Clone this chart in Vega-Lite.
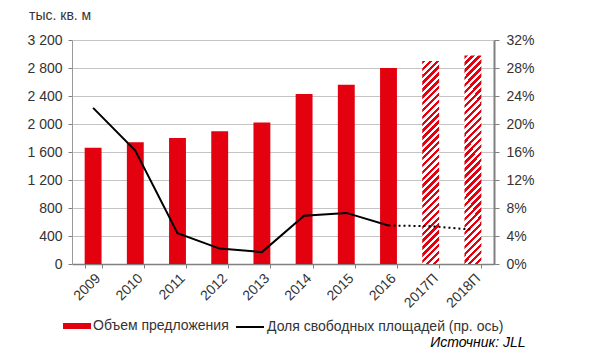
{
  "$schema": "https://vega.github.io/schema/vega-lite/v6.json",
  "width": 422,
  "height": 224,
  "autosize": {"type": "none"},
  "padding": {"left": 72, "top": 40, "right": 106, "bottom": 100},
  "background": "white",
  "title": {
    "text": "тыс. кв. м",
    "anchor": "start",
    "frame": "group",
    "orient": "top",
    "dx": -43,
    "offset": 10,
    "font": "Liberation Sans",
    "fontSize": 14,
    "fontWeight": "normal",
    "color": "#333333"
  },
  "data": {
    "values": [
      {"year": "2009", "supply": 1660, "vac": 0.223, "f": false},
      {"year": "2010", "supply": 1740, "vac": 0.162, "f": false},
      {"year": "2011", "supply": 1800, "vac": 0.044, "f": false},
      {"year": "2012", "supply": 1895, "vac": 0.022, "f": false},
      {"year": "2013", "supply": 2020, "vac": 0.017, "f": false},
      {"year": "2014", "supply": 2430, "vac": 0.069, "f": false},
      {"year": "2015", "supply": 2560, "vac": 0.073, "f": false},
      {"year": "2016", "supply": 2800, "vac": 0.055, "f": false},
      {"year": "2017П", "supply": 2900, "vac": 0.054, "f": true},
      {"year": "2018П", "supply": 2980, "vac": 0.049, "f": true}
    ]
  },
  "encoding": {
    "x": {
      "field": "year",
      "type": "nominal",
      "sort": null,
      "scale": {"paddingInner": 0.6, "paddingOuter": 0.3},
      "axis": {
        "tickBand": "extent",
        "labelAngle": -45,
        "labelAlign": "right",
        "labelBaseline": "top",
        "labelPadding": 3,
        "tickSize": 4,
        "tickColor": "#808080",
        "domainColor": "#808080",
        "domainWidth": 1.5,
        "grid": false,
        "title": "Источник: JLL",
        "titleFontStyle": "italic",
        "titleFontWeight": "normal",
        "titleFontSize": 14,
        "titleColor": "#000000",
        "titleAlign": "right",
        "titleBaseline": "middle",
        "titleX": 453,
        "titleY": 78,
        "titleAngle": 0
      }
    }
  },
  "layer": [
    {
      "mark": {"type": "bar"},
      "encoding": {
        "y": {
          "field": "supply",
          "type": "quantitative",
          "scale": {"domain": [0, 3200], "nice": false},
          "axis": {
            "values": [0, 400, 800, 1200, 1600, 2000, 2400, 2800, 3200],
            "labelExpr": "replace(format(datum.value, ','), ',', ' ')",
            "labelOverlap": false,
            "grid": true,
            "gridColor": "#c4c4c4",
            "gridWidth": 1,
            "domainColor": "#999999",
            "tickColor": "#808080",
            "tickSize": 4,
            "labelPadding": 6,
            "title": null
          }
        },
        "fill": {
          "condition": {
            "test": "datum.f",
            "value": {
              "gradient": "linear",
              "x1": 0, "y1": 0, "x2": 0.0893, "y2": 1.0755,
              "stops": [
                {"offset": 0, "color": "#e3000f"}, {"offset": 0.015625, "color": "#e3000f"},
                {"offset": 0.015625, "color": "#ffffff"}, {"offset": 0.03125, "color": "#ffffff"},
                {"offset": 0.03125, "color": "#e3000f"}, {"offset": 0.046875, "color": "#e3000f"},
                {"offset": 0.046875, "color": "#ffffff"}, {"offset": 0.0625, "color": "#ffffff"},
                {"offset": 0.0625, "color": "#e3000f"}, {"offset": 0.078125, "color": "#e3000f"},
                {"offset": 0.078125, "color": "#ffffff"}, {"offset": 0.09375, "color": "#ffffff"},
                {"offset": 0.09375, "color": "#e3000f"}, {"offset": 0.109375, "color": "#e3000f"},
                {"offset": 0.109375, "color": "#ffffff"}, {"offset": 0.125, "color": "#ffffff"},
                {"offset": 0.125, "color": "#e3000f"}, {"offset": 0.140625, "color": "#e3000f"},
                {"offset": 0.140625, "color": "#ffffff"}, {"offset": 0.15625, "color": "#ffffff"},
                {"offset": 0.15625, "color": "#e3000f"}, {"offset": 0.171875, "color": "#e3000f"},
                {"offset": 0.171875, "color": "#ffffff"}, {"offset": 0.1875, "color": "#ffffff"},
                {"offset": 0.1875, "color": "#e3000f"}, {"offset": 0.203125, "color": "#e3000f"},
                {"offset": 0.203125, "color": "#ffffff"}, {"offset": 0.21875, "color": "#ffffff"},
                {"offset": 0.21875, "color": "#e3000f"}, {"offset": 0.234375, "color": "#e3000f"},
                {"offset": 0.234375, "color": "#ffffff"}, {"offset": 0.25, "color": "#ffffff"},
                {"offset": 0.25, "color": "#e3000f"}, {"offset": 0.265625, "color": "#e3000f"},
                {"offset": 0.265625, "color": "#ffffff"}, {"offset": 0.28125, "color": "#ffffff"},
                {"offset": 0.28125, "color": "#e3000f"}, {"offset": 0.296875, "color": "#e3000f"},
                {"offset": 0.296875, "color": "#ffffff"}, {"offset": 0.3125, "color": "#ffffff"},
                {"offset": 0.3125, "color": "#e3000f"}, {"offset": 0.328125, "color": "#e3000f"},
                {"offset": 0.328125, "color": "#ffffff"}, {"offset": 0.34375, "color": "#ffffff"},
                {"offset": 0.34375, "color": "#e3000f"}, {"offset": 0.359375, "color": "#e3000f"},
                {"offset": 0.359375, "color": "#ffffff"}, {"offset": 0.375, "color": "#ffffff"},
                {"offset": 0.375, "color": "#e3000f"}, {"offset": 0.390625, "color": "#e3000f"},
                {"offset": 0.390625, "color": "#ffffff"}, {"offset": 0.40625, "color": "#ffffff"},
                {"offset": 0.40625, "color": "#e3000f"}, {"offset": 0.421875, "color": "#e3000f"},
                {"offset": 0.421875, "color": "#ffffff"}, {"offset": 0.4375, "color": "#ffffff"},
                {"offset": 0.4375, "color": "#e3000f"}, {"offset": 0.453125, "color": "#e3000f"},
                {"offset": 0.453125, "color": "#ffffff"}, {"offset": 0.46875, "color": "#ffffff"},
                {"offset": 0.46875, "color": "#e3000f"}, {"offset": 0.484375, "color": "#e3000f"},
                {"offset": 0.484375, "color": "#ffffff"}, {"offset": 0.5, "color": "#ffffff"},
                {"offset": 0.5, "color": "#e3000f"}, {"offset": 0.515625, "color": "#e3000f"},
                {"offset": 0.515625, "color": "#ffffff"}, {"offset": 0.53125, "color": "#ffffff"},
                {"offset": 0.53125, "color": "#e3000f"}, {"offset": 0.546875, "color": "#e3000f"},
                {"offset": 0.546875, "color": "#ffffff"}, {"offset": 0.5625, "color": "#ffffff"},
                {"offset": 0.5625, "color": "#e3000f"}, {"offset": 0.578125, "color": "#e3000f"},
                {"offset": 0.578125, "color": "#ffffff"}, {"offset": 0.59375, "color": "#ffffff"},
                {"offset": 0.59375, "color": "#e3000f"}, {"offset": 0.609375, "color": "#e3000f"},
                {"offset": 0.609375, "color": "#ffffff"}, {"offset": 0.625, "color": "#ffffff"},
                {"offset": 0.625, "color": "#e3000f"}, {"offset": 0.640625, "color": "#e3000f"},
                {"offset": 0.640625, "color": "#ffffff"}, {"offset": 0.65625, "color": "#ffffff"},
                {"offset": 0.65625, "color": "#e3000f"}, {"offset": 0.671875, "color": "#e3000f"},
                {"offset": 0.671875, "color": "#ffffff"}, {"offset": 0.6875, "color": "#ffffff"},
                {"offset": 0.6875, "color": "#e3000f"}, {"offset": 0.703125, "color": "#e3000f"},
                {"offset": 0.703125, "color": "#ffffff"}, {"offset": 0.71875, "color": "#ffffff"},
                {"offset": 0.71875, "color": "#e3000f"}, {"offset": 0.734375, "color": "#e3000f"},
                {"offset": 0.734375, "color": "#ffffff"}, {"offset": 0.75, "color": "#ffffff"},
                {"offset": 0.75, "color": "#e3000f"}, {"offset": 0.765625, "color": "#e3000f"},
                {"offset": 0.765625, "color": "#ffffff"}, {"offset": 0.78125, "color": "#ffffff"},
                {"offset": 0.78125, "color": "#e3000f"}, {"offset": 0.796875, "color": "#e3000f"},
                {"offset": 0.796875, "color": "#ffffff"}, {"offset": 0.8125, "color": "#ffffff"},
                {"offset": 0.8125, "color": "#e3000f"}, {"offset": 0.828125, "color": "#e3000f"},
                {"offset": 0.828125, "color": "#ffffff"}, {"offset": 0.84375, "color": "#ffffff"},
                {"offset": 0.84375, "color": "#e3000f"}, {"offset": 0.859375, "color": "#e3000f"},
                {"offset": 0.859375, "color": "#ffffff"}, {"offset": 0.875, "color": "#ffffff"},
                {"offset": 0.875, "color": "#e3000f"}, {"offset": 0.890625, "color": "#e3000f"},
                {"offset": 0.890625, "color": "#ffffff"}, {"offset": 0.90625, "color": "#ffffff"},
                {"offset": 0.90625, "color": "#e3000f"}, {"offset": 0.921875, "color": "#e3000f"},
                {"offset": 0.921875, "color": "#ffffff"}, {"offset": 0.9375, "color": "#ffffff"},
                {"offset": 0.9375, "color": "#e3000f"}, {"offset": 0.953125, "color": "#e3000f"},
                {"offset": 0.953125, "color": "#ffffff"}, {"offset": 0.96875, "color": "#ffffff"},
                {"offset": 0.96875, "color": "#e3000f"}, {"offset": 0.984375, "color": "#e3000f"},
                {"offset": 0.984375, "color": "#ffffff"}, {"offset": 1, "color": "#ffffff"}
              ]
            }
          },
          "datum": "Объем предложения",
          "scale": {"range": ["#e3000f"]},
          "legend": {
            "title": null,
            "orient": "none",
            "legendX": -9,
            "legendY": 272,
            "padding": 0,
            "symbolType": "M-1,-0.214L1,-0.214L1,0.214L-1,0.214Z",
            "symbolSize": 784,
            "symbolStrokeWidth": 0,
            "labelOffset": 2,
            "labelLimit": 0
          }
        }
      }
    },
    {
      "encoding": {
        "y": {
          "field": "vac",
          "type": "quantitative",
          "scale": {"domain": [0, 0.32], "nice": false},
          "axis": {
            "orient": "right",
            "values": [0, 0.04, 0.08, 0.12, 0.16, 0.2, 0.24, 0.28, 0.32],
            "format": ".0%",
            "labelOverlap": false,
            "grid": false,
            "domainColor": "#808080",
            "domainWidth": 2,
            "tickColor": "#808080",
            "tickSize": 5,
            "labelPadding": 7,
            "title": null
          }
        }
      },
      "layer": [
        {
          "transform": [{"filter": {"field": "f", "equal": false}}],
          "mark": {"type": "line", "strokeWidth": 2},
          "encoding": {
            "stroke": {
              "datum": "Доля свободных площадей (пр. ось)",
              "scale": {"range": ["#000000"]},
              "legend": {
                "title": null,
                "orient": "none",
                "legendX": 163,
                "legendY": 272,
                "padding": 0,
                "symbolType": "stroke",
                "symbolSize": 784,
                "symbolStrokeWidth": 2,
                "labelOffset": 2,
                "labelLimit": 0
              }
            }
          }
        },
        {
          "transform": [{"filter": {"field": "year", "oneOf": ["2016", "2017П", "2018П"]}}],
          "mark": {"type": "line", "strokeWidth": 2, "strokeDash": [2, 3], "color": "#000000"},
          "encoding": {}
        }
      ]
    }
  ],
  "resolve": {"scale": {"y": "independent"}},
  "config": {
    "view": {"stroke": null},
    "axis": {
      "labelFont": "Liberation Sans",
      "labelFontSize": 14,
      "labelColor": "#333333",
      "titleFont": "Liberation Sans"
    },
    "legend": {
      "labelFont": "Liberation Sans",
      "labelFontSize": 14,
      "labelColor": "#333333"
    }
  }
}
